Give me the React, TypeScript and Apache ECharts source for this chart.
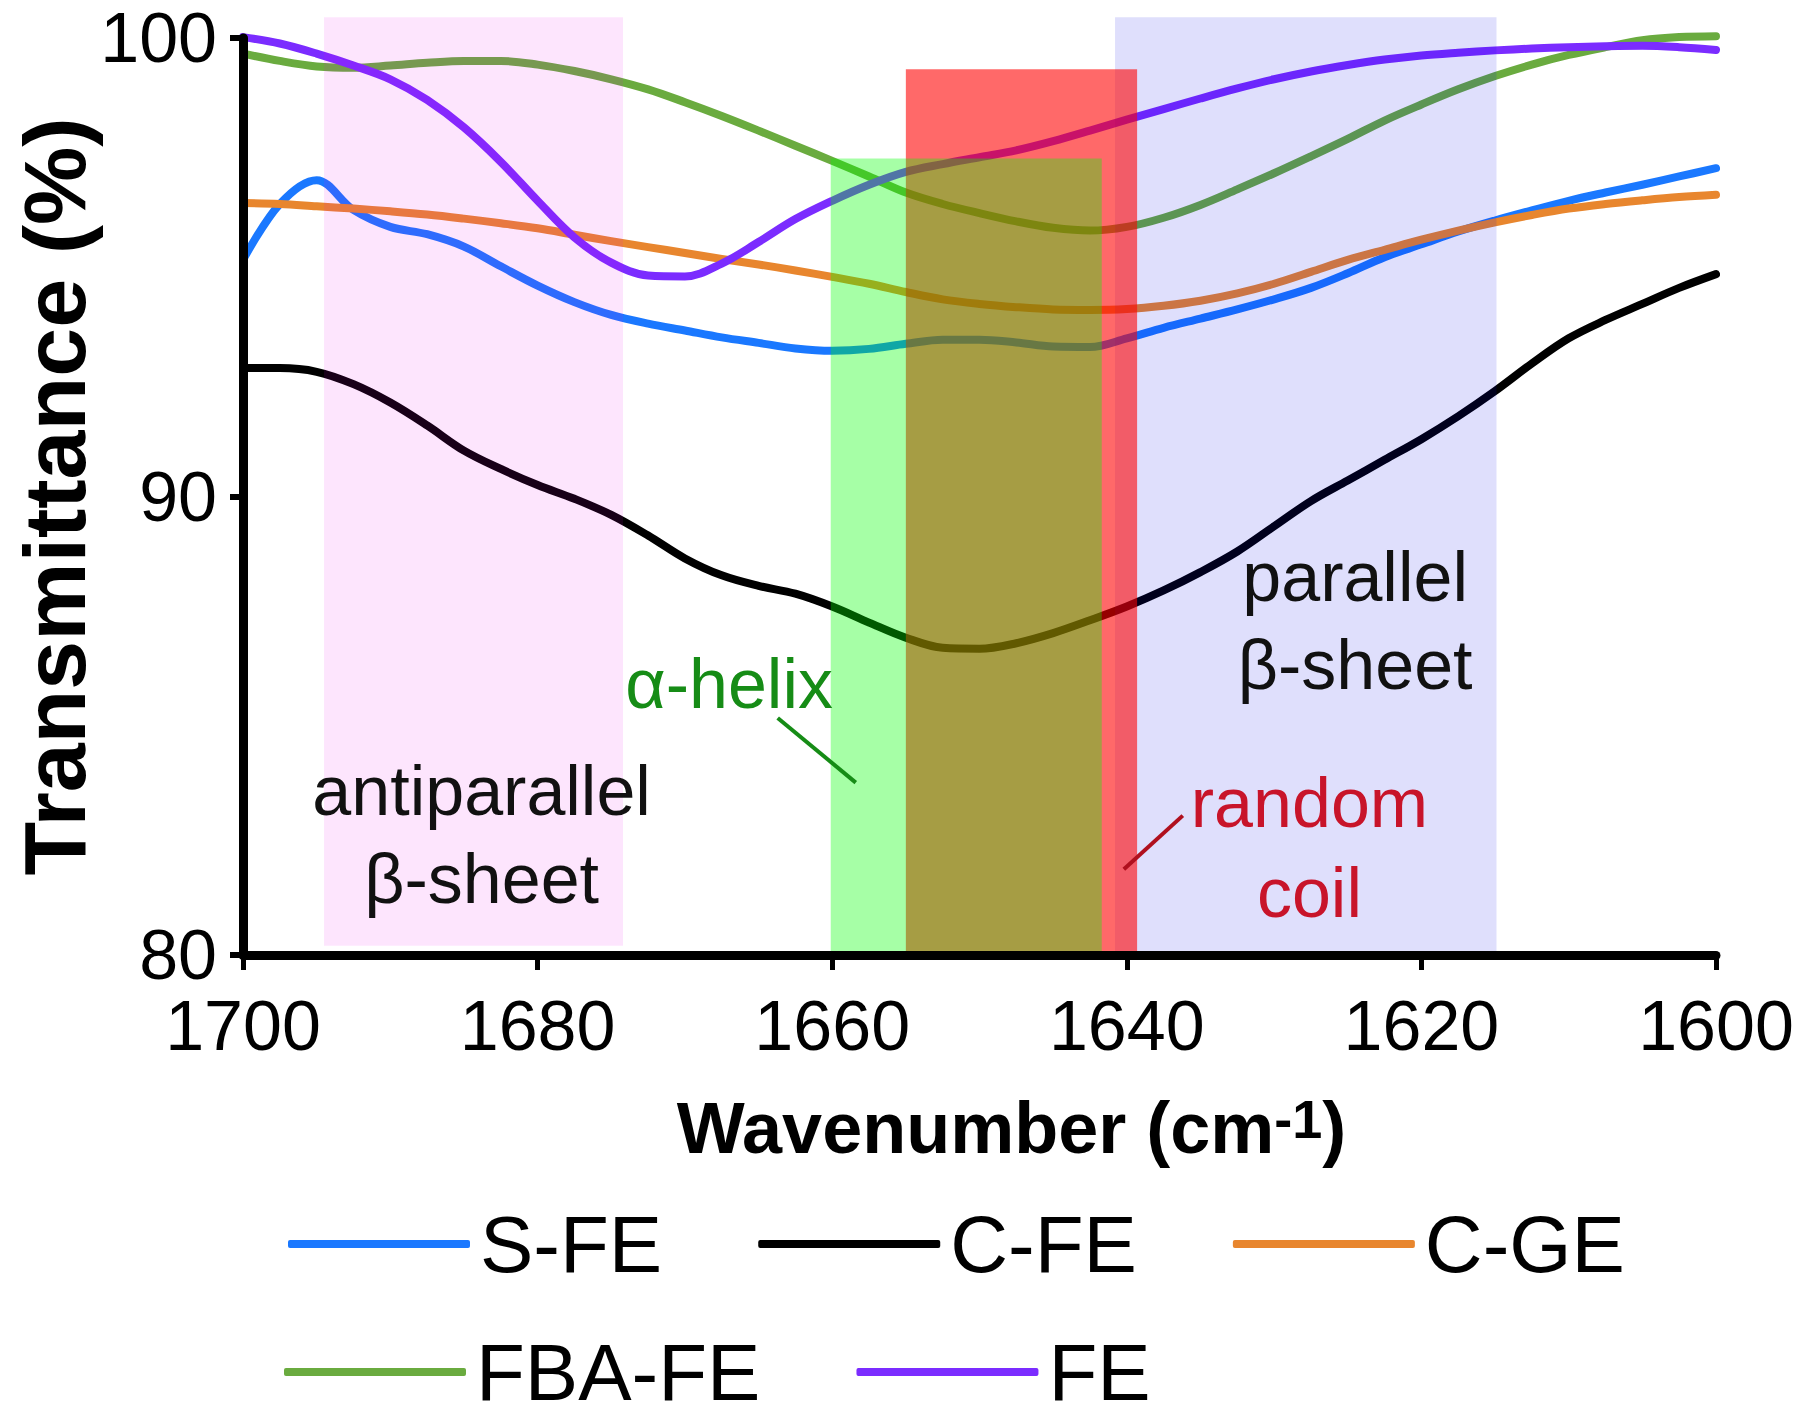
import React, { useEffect, useRef } from 'react';
import * as echarts from 'echarts';

// Wavenumber grid (cm-1), uniform 2.5 spacing
const wavenumbers = [1700, 1697.5, 1695, 1692.5, 1690, 1687.5, 1685, 1682.5, 1680, 1677.5, 1675, 1672.5, 1670, 1667.5, 1665, 1662.5, 1660, 1657.5, 1655, 1652.5, 1650, 1647.5, 1645, 1642.5, 1640, 1637.5, 1635, 1632.5, 1630, 1627.5, 1625, 1622.5, 1620, 1617.5, 1615, 1612.5, 1610, 1607.5, 1605, 1602.5, 1600];

const sFE = [95.16, 96.38, 96.9, 96.25, 95.88, 95.72, 95.45, 95.02, 94.6, 94.24, 93.96, 93.77, 93.62, 93.47, 93.35, 93.23, 93.18, 93.22, 93.33, 93.42, 93.42, 93.36, 93.27, 93.26, 93.45, 93.68, 93.88, 94.08, 94.3, 94.55, 94.87, 95.22, 95.5, 95.78, 96.02, 96.24, 96.45, 96.63, 96.8, 96.98, 97.16];
const cFE = [92.8, 92.8, 92.72, 92.45, 92.05, 91.55, 91.0, 90.6, 90.25, 89.95, 89.6, 89.15, 88.65, 88.28, 88.05, 87.88, 87.6, 87.25, 86.92, 86.7, 86.68, 86.8, 87.02, 87.3, 87.6, 87.95, 88.35, 88.8, 89.35, 89.9, 90.35, 90.8, 91.25, 91.75, 92.3, 92.9, 93.45, 93.85, 94.2, 94.55, 94.85];
const cGE = [96.4, 96.38, 96.33, 96.28, 96.22, 96.15, 96.06, 95.96, 95.85, 95.71, 95.57, 95.44, 95.31, 95.18, 95.06, 94.93, 94.79, 94.64, 94.46, 94.3, 94.2, 94.13, 94.08, 94.07, 94.09, 94.16, 94.27, 94.43, 94.64, 94.9, 95.16, 95.38, 95.6, 95.8, 95.98, 96.14, 96.28, 96.38, 96.46, 96.53, 96.58];
const fbaFE = [99.66, 99.5, 99.38, 99.35, 99.4, 99.46, 99.5, 99.5, 99.42, 99.28, 99.1, 98.88, 98.6, 98.3, 97.98, 97.65, 97.32, 96.98, 96.63, 96.38, 96.18, 96.0, 95.86, 95.8, 95.88, 96.08, 96.36, 96.7, 97.05, 97.42, 97.8, 98.2, 98.55, 98.88, 99.17, 99.42, 99.63, 99.8, 99.95, 100.02, 100.04];
const fe = [100.02, 99.88, 99.66, 99.4, 99.1, 98.65, 98.05, 97.3, 96.45, 95.65, 95.1, 94.82, 94.8, 95.08, 95.55, 96.05, 96.45, 96.8, 97.08, 97.25, 97.4, 97.55, 97.75, 97.98, 98.22, 98.45, 98.68, 98.9, 99.1, 99.27, 99.41, 99.53, 99.62, 99.68, 99.73, 99.77, 99.8, 99.82, 99.83, 99.8, 99.74];

const seriesNames = ['S-FE', 'C-FE', 'C-GE', 'FBA-FE', 'FE'];
const seriesValues = [sFE, cFE, cGE, fbaFE, fe];
const seriesColors = ['#1a78ff', '#000000', '#e8862e', '#6aab3f', '#7b2cff'];

const legendRow1 = ['S-FE', 'C-FE', 'C-GE'];
const legendRow2 = ['FBA-FE', 'FE'];

// Shaded band assignments (wavenumber range, transmittance top/bottom)
const regionFrom = [1694.5, 1640.8, 1655.0, 1660.1];
const regionTo = [1674.2, 1614.9, 1639.3, 1641.7];
const regionTop = [100.45, 100.45, 99.32, 97.37];
const regionBottom = [80.2, 80.05, 80, 80];
const regionColors = ['rgba(240,0,240,0.1)', 'rgba(0,0,235,0.125)', 'rgba(255,0,0,0.59)', 'rgba(0,255,0,0.35)'];

// Annotations
const annotationTexts = ['antiparallel', 'β-sheet', 'α-helix', 'parallel', 'β-sheet', 'random', 'coil'];
const annotationX = [1683.8, 1683.8, 1667.0, 1624.5, 1624.5, 1627.6, 1627.6];
const annotationY = [83.57, 81.65, 85.9, 88.24, 86.32, 83.32, 81.36];
const annotationColors = ['#111111', '#111111', '#168c16', '#111111', '#111111', '#c8142a', '#c8142a'];

const leaderX1 = [1663.7, 1636.2];
const leaderY1 = [85.17, 83.04];
const leaderX2 = [1658.4, 1640.2];
const leaderY2 = [83.76, 81.87];
const leaderColors = ['#168c16', '#b0101e'];

const FONT = "'Liberation Sans', Arial, Helvetica, sans-serif";

export default function App() {
  const ref = useRef<HTMLDivElement>(null);

  useEffect(() => {
    const chart = echarts.init(ref.current as HTMLDivElement, null, { renderer: 'svg' });

    const lineSeries = seriesNames.map((name, i) => ({
      name,
      type: 'line',
      data: wavenumbers.map((w, j) => [w, seriesValues[i][j]]),
      smooth: 0.35,
      symbol: 'none',
      showSymbol: false,
      clip: false,
      z: 2,
      lineStyle: { color: seriesColors[i], width: 8, cap: 'round', join: 'round' },
      itemStyle: { color: seriesColors[i] },
    }));

    const regionSeries = {
      type: 'custom',
      name: 'regions',
      coordinateSystem: 'cartesian2d',
      silent: true,
      z: 3,
      data: regionFrom.map((f, i) => [f, regionTo[i], regionTop[i], regionBottom[i]]),
      encode: { x: [0, 1], y: [2, 3] },
      renderItem: (params: any, api: any) => {
        const p1 = api.coord([api.value(0), api.value(2)]);
        const p2 = api.coord([api.value(1), api.value(3)]);
        return {
          type: 'rect',
          shape: {
            x: Math.min(p1[0], p2[0]),
            y: Math.min(p1[1], p2[1]),
            width: Math.abs(p2[0] - p1[0]),
            height: Math.abs(p2[1] - p1[1]),
          },
          style: { fill: regionColors[params.dataIndex] },
        };
      },
    };

    const leaderSeries = {
      type: 'custom',
      name: 'leaders',
      coordinateSystem: 'cartesian2d',
      silent: true,
      z: 6,
      data: leaderX1.map((x, i) => [x, leaderY1[i], leaderX2[i], leaderY2[i]]),
      encode: { x: [0, 2], y: [1, 3] },
      renderItem: (params: any, api: any) => {
        const a = api.coord([api.value(0), api.value(1)]);
        const b = api.coord([api.value(2), api.value(3)]);
        return {
          type: 'line',
          shape: { x1: a[0], y1: a[1], x2: b[0], y2: b[1] },
          style: { stroke: leaderColors[params.dataIndex], lineWidth: 4 },
        };
      },
    };

    const textSeries = {
      type: 'custom',
      name: 'annotations',
      coordinateSystem: 'cartesian2d',
      silent: true,
      z: 7,
      data: annotationX.map((x, i) => [x, annotationY[i]]),
      encode: { x: 0, y: 1 },
      renderItem: (params: any, api: any) => {
        const p = api.coord([api.value(0), api.value(1)]);
        return {
          type: 'text',
          x: p[0],
          y: p[1],
          style: {
            text: annotationTexts[params.dataIndex],
            fill: annotationColors[params.dataIndex],
            fontSize: 70,
            fontFamily: FONT,
            align: 'center',
            verticalAlign: 'middle',
          },
        };
      },
    };

    const legendCommon = {
      orient: 'horizontal',
      itemWidth: 182,
      itemHeight: 8,
      itemGap: 96,
      icon: 'roundRect',
      selectedMode: false,
      padding: 0,
      textStyle: { fontSize: 80, lineHeight: 80, fontFamily: FONT, color: '#000', padding: [0, 0, 0, 5] },
    };

    const option: any = {
      animation: false,
      backgroundColor: '#ffffff',
      grid: { left: 243, right: 84, top: 38, bottom: 461, containLabel: false, outerBoundsMode: 'none' },
      legend: [
        { ...legendCommon, data: legendRow1, left: 288, top: 1204 },
        { ...legendCommon, data: legendRow2, left: 284, top: 1332 },
      ],
      xAxis: {
        type: 'value',
        min: 1600,
        max: 1700,
        interval: 20,
        inverse: true,
        z: 5,
        name: '{b|Wavenumber (cm}{sup|-1}{b|)}',
        nameLocation: 'middle',
        nameGap: 137,
        nameMoveOverlap: false,
        nameTextStyle: {
          fontSize: 72,
          fontWeight: 'bold',
          fontFamily: FONT,
          color: '#000',
          padding: [0, 0, 0, 64],
          rich: {
            b: { fontSize: 72, fontWeight: 'bold', fontFamily: FONT, color: '#000', verticalAlign: 'bottom' },
            sup: { fontSize: 54, fontWeight: 'bold', fontFamily: FONT, color: '#000', verticalAlign: 'top' },
          },
        },
        axisLine: { show: true, onZero: false, lineStyle: { color: '#000', width: 9 } },
        axisTick: { show: true, inside: false, length: 15, lineStyle: { color: '#000', width: 5 } },
        axisLabel: { fontSize: 70, fontFamily: FONT, color: '#000', margin: 36, formatter: (v: number) => String(v) },
        splitLine: { show: false },
      },
      yAxis: {
        type: 'value',
        min: 80,
        max: 100,
        interval: 10,
        z: 5,
        name: 'Transmittance (%)',
        nameLocation: 'middle',
        nameGap: 145,
        nameMoveOverlap: false,
        nameTextStyle: { fontSize: 88, lineHeight: 88, fontWeight: 'bold', fontFamily: FONT, color: '#000' },
        axisLine: { show: true, onZero: false, lineStyle: { color: '#000', width: 9 } },
        axisTick: { show: true, inside: false, length: 13, lineStyle: { color: '#000', width: 6 } },
        axisLabel: { fontSize: 70, fontFamily: FONT, color: '#000', margin: 26, formatter: (v: number) => String(v) },
        splitLine: { show: false },
      },
      series: [...lineSeries, regionSeries, leaderSeries, textSeries],
    };

    chart.setOption(option);
    return () => {
      chart.dispose();
    };
  }, []);

  return (
    <div
      ref={ref}
      style={{ position: 'fixed', left: 0, top: 0, width: 1800, height: 1416, background: '#fff' }}
    />
  );
}
